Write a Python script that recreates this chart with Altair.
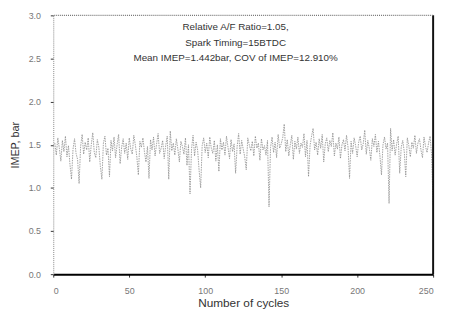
import altair as alt
import pandas as pd

imep = [
    1.52, 1.38, 1.58, 1.46, 1.31, 1.55, 1.42, 1.60, 1.36, 1.49,
    1.27, 1.10, 1.45, 1.57, 1.40, 1.33, 1.05, 1.48, 1.62, 1.39,
    1.53, 1.44, 1.58, 1.30, 1.50, 1.64, 1.41, 1.35, 1.56, 1.47,
    1.25, 1.10, 1.52, 1.60, 1.38, 1.46, 1.13, 1.55, 1.43, 1.59,
    1.35, 1.50, 1.62, 1.28, 1.47, 1.57, 1.40, 1.52, 1.33, 1.58,
    1.45, 1.39, 1.61, 1.50, 1.36, 1.15, 1.54, 1.47, 1.58, 1.42,
    1.30, 1.48, 1.11, 1.56, 1.44, 1.59, 1.37, 1.51, 1.63, 1.40,
    1.46, 1.55, 1.34, 1.49, 1.60, 1.10, 1.66, 1.43, 1.52, 1.38,
    1.57, 1.45, 1.30, 1.54, 1.48, 1.39, 1.58, 1.26, 1.50, 0.93,
    1.45, 1.61, 1.37, 1.53, 1.44, 1.20, 1.00, 1.49, 1.58, 1.41,
    1.52, 1.35, 1.59, 1.46, 1.40, 1.55, 1.31, 1.50, 1.19, 1.57,
    1.44, 1.53, 1.38, 1.60, 1.47, 1.34, 1.56, 1.42, 1.51, 1.17,
    1.48, 1.63, 1.39, 1.55, 1.45, 1.36, 1.21, 1.58, 1.50, 1.43,
    1.54, 1.37, 1.60, 1.46, 1.52, 1.32, 1.57, 1.44, 1.49, 1.38,
    1.55, 0.78, 1.47, 1.59, 1.41, 1.53, 1.35, 1.62, 1.46, 1.51,
    1.58, 1.74, 1.42, 1.56, 1.37, 1.50, 1.61, 1.33, 1.54, 1.45,
    1.59, 1.40, 1.52, 1.47, 1.63, 1.36, 1.55, 1.13, 1.49, 1.60,
    1.69, 1.44, 1.53, 1.38, 1.57, 1.46, 1.62, 1.30, 1.51, 1.58,
    1.42, 1.55, 1.48, 1.64, 1.37, 1.52, 1.45, 1.59, 1.34, 1.50,
    1.56, 1.43, 1.61, 1.47, 1.11, 1.54, 1.40, 1.58, 1.49, 1.36,
    1.53, 1.60, 1.44, 1.51, 1.67, 1.39, 1.55, 1.46, 1.32, 1.57,
    1.48, 1.62, 1.41, 1.54, 1.37, 1.15, 1.50, 1.59, 1.45, 1.52,
    0.82, 1.69, 1.43, 1.56, 1.38, 1.51, 1.60, 1.17, 1.47, 1.55,
    1.42, 1.13, 1.58, 1.49, 1.36, 1.53, 1.46, 1.61, 1.40, 1.52,
    1.57, 1.44, 1.35, 1.59, 1.48, 1.41, 1.52, 1.60, 1.38, 0.80,
]
cycles = list(range(1, len(imep) + 1))

x_ticks = [0, 50, 100, 150, 200, 250]
y_ticks = [0.0, 0.5, 1.0, 1.5, 2.0, 2.5, 3.0]

notes = [
    "Relative A/F Ratio=1.05,",
    "Spark Timing=15BTDC",
    "Mean IMEP=1.442bar, COV of IMEP=12.910%",
]
note_y = [2.86, 2.68, 2.50]
note_x = [120, 120, 120]

df = pd.DataFrame({"cycle": cycles, "imep": imep})
notes_df = pd.DataFrame({"text": notes, "x": note_x, "y": note_y})

FONT = "Liberation Sans"

xscale = alt.Scale(domain=[0, 250], nice=False, zero=False)
yscale = alt.Scale(domain=[0, 3.0], nice=False)

line = alt.Chart(df).mark_line(color="#8a8a8a", strokeWidth=0.8, strokeDash=[1.5, 1]).encode(
    x=alt.X("cycle:Q", scale=xscale,
            axis=alt.Axis(values=x_ticks, format="d", title="Number of cycles",
                          grid=False, domainColor="#000", domainWidth=2,
                          tickColor="#333", tickSize=3, labelPadding=10,
                          labelColor="#777", labelFontSize=9, labelFont=FONT,
                          titleFont=FONT, titleFontSize=12, titleFontWeight="normal",
                          titleColor="#333", titlePadding=2)),
    y=alt.Y("imep:Q", scale=yscale,
            axis=alt.Axis(values=y_ticks, format=".1f", title="IMEP, bar",
                          grid=False, domainColor="#888", domainWidth=1,
                          domainDash=[1, 1], tickColor="#333", tickSize=3,
                          labelPadding=10, labelColor="#777", labelFontSize=9,
                          labelFont=FONT, titleFont=FONT, titleFontSize=11,
                          titleFontWeight="normal", titleColor="#333",
                          titlePadding=8)),
)

border_df = pd.DataFrame({"x": [250], "y": [3.0]})
right_border = alt.Chart(border_df).mark_rule(color="#111", strokeWidth=2).encode(
    x=alt.X("x:Q", scale=xscale)
)
top_border = alt.Chart(border_df).mark_rule(color="#777", strokeWidth=1.2, strokeDash=[1, 1]).encode(
    y=alt.Y("y:Q", scale=yscale)
)

text = alt.Chart(notes_df).mark_text(font=FONT, fontSize=10, color="#333", align="center",
                                     baseline="middle").encode(
    x=alt.X("x:Q", scale=xscale),
    y=alt.Y("y:Q", scale=yscale),
    text="text:N",
)

chart = alt.layer(line, right_border, top_border, text).properties(
    width=386, height=263,
    autosize=alt.AutoSizeParams(type="none"),
    padding={"left": 46, "top": 5, "right": 8, "bottom": 38},
    background="white",
).configure_view(stroke=None)

chart.save("out.html", embed_options={"renderer": "svg", "actions": False})
